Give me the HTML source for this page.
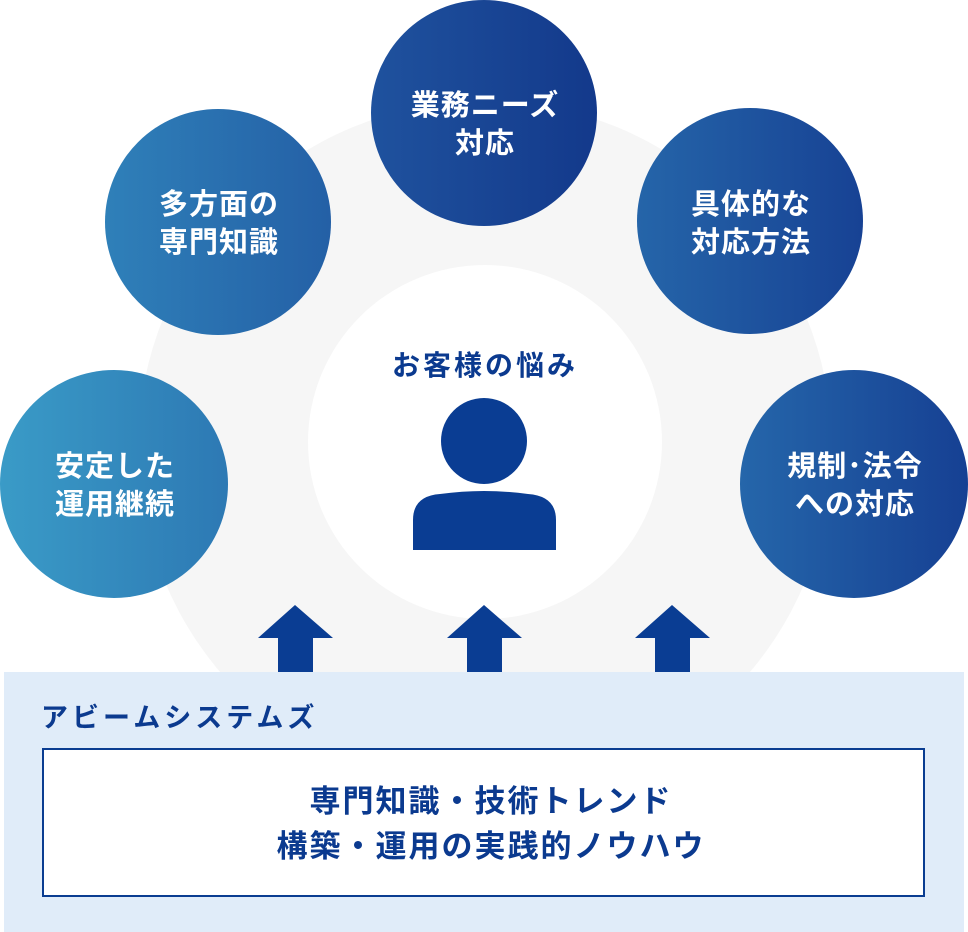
<!DOCTYPE html>
<html><head><meta charset="utf-8"><style>
html,body{margin:0;padding:0;background:#fff;}
body{width:968px;height:932px;overflow:hidden;position:relative;font-family:"Liberation Sans","Noto Sans CJK JP",sans-serif;}
svg{position:absolute;left:0;top:0;}
</style></head><body>
<svg width="968" height="932" viewBox="0 0 968 932" xmlns="http://www.w3.org/2000/svg" font-family="Liberation Sans, Noto Sans CJK JP, sans-serif">
<defs>
<linearGradient id="g1" x1="0" y1="0" x2="1" y2="0"><stop offset="0" stop-color="#3a9bc7"/><stop offset="1" stop-color="#2d79b4"/></linearGradient>
<linearGradient id="g2" x1="0" y1="0" x2="1" y2="0"><stop offset="0" stop-color="#2f80b9"/><stop offset="1" stop-color="#2460a6"/></linearGradient>
<linearGradient id="g3" x1="0" y1="0" x2="1" y2="0"><stop offset="0" stop-color="#1f529e"/><stop offset="1" stop-color="#13398b"/></linearGradient>
<linearGradient id="g4" x1="0" y1="0" x2="1" y2="0"><stop offset="0" stop-color="#2565a9"/><stop offset="1" stop-color="#174294"/></linearGradient>
<linearGradient id="g5" x1="0" y1="0" x2="1" y2="0"><stop offset="0" stop-color="#2566aa"/><stop offset="1" stop-color="#164093"/></linearGradient>
</defs>
<circle cx="485" cy="448" r="347" fill="#f6f6f6"/>
<circle cx="485" cy="442" r="177" fill="#fff"/>
<g fill="#0a3d93">
<path d="M258,638 L295,605 L333,638 L313,638 L313,672 L278,672 L278,638Z"/>
<path d="M447,638 L484,605 L522,638 L502,638 L502,672 L467,672 L467,638Z"/>
<path d="M635,638 L672,605 L710,638 L690,638 L690,672 L655,672 L655,638Z"/>
<circle cx="484" cy="441" r="43"/>
<path d="M413,550 L413,520 Q413,496 440,494 Q484,488 528,494 Q556,496 556,520 L556,550Z"/>
</g>
<text x="485" y="375" text-anchor="middle" font-size="28" font-weight="bold" fill="#0b3a8f" letter-spacing="3">お客様の悩み</text>
<circle cx="114" cy="484" r="114" fill="url(#g1)"/>
<circle cx="218" cy="222" r="113" fill="url(#g2)"/>
<circle cx="484" cy="113" r="113" fill="url(#g3)"/>
<circle cx="750" cy="221" r="113" fill="url(#g4)"/>
<circle cx="854" cy="484" r="114" fill="url(#g5)"/>
<g fill="#fff" font-size="29" font-weight="bold" text-anchor="middle" letter-spacing="1">
<text x="115" y="476">安定した</text><text x="115" y="514">運用継続</text>
<text x="219" y="214">多方面の</text><text x="219" y="252">専門知識</text>
<text x="485" y="115">業務ニーズ</text><text x="485" y="153">対応</text>
<text x="751" y="214">具体的な</text><text x="751" y="252">対応方法</text>
<text x="855" y="476">規制･法令</text><text x="855" y="514">への対応</text>
</g>
<rect x="4" y="672" width="960" height="260" fill="#e0ecf9"/>
<text x="41" y="727" font-size="27" font-weight="bold" fill="#0b3a8f" letter-spacing="4">アビームシステムズ</text>
<rect x="43" y="749" width="881" height="147" fill="#fff" stroke="#0a3d91" stroke-width="2"/>
<g fill="#0b3a8f" font-size="31" font-weight="bold" text-anchor="middle" letter-spacing="2">
<text x="491" y="812">専門知識・技術トレンド</text>
<text x="491" y="857">構築・運用の実践的ノウハウ</text>
</g>
</svg>
</body></html>
